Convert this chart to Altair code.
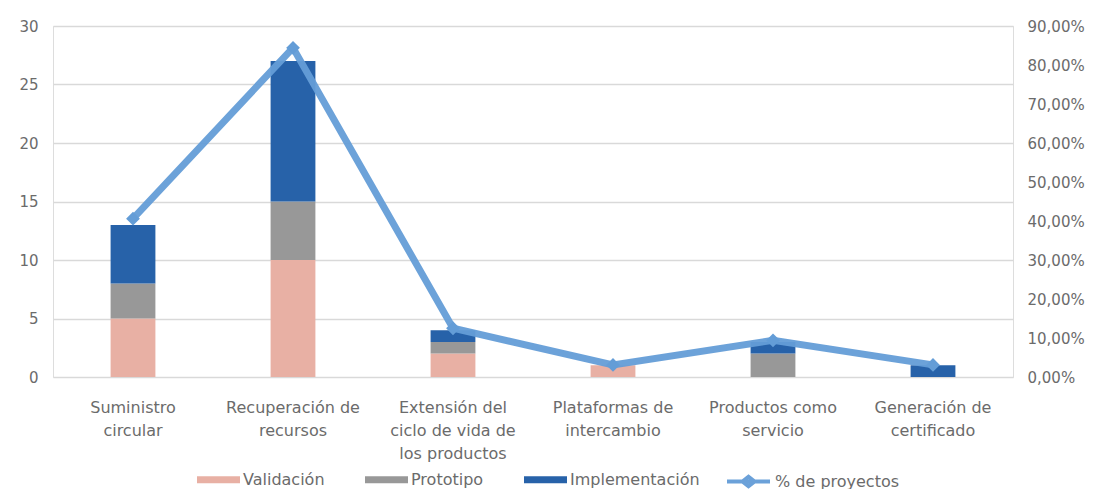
import altair as alt
import pandas as pd
import json

categories = [
    "Suministro circular",
    "Recuperación de recursos",
    "Extensión del ciclo de vida de los productos",
    "Plataformas de intercambio",
    "Productos como servicio",
    "Generación de certificado",
]
label_lines = [
    ["Suministro", "circular"],
    ["Recuperación de", "recursos"],
    ["Extensión del", "ciclo de vida de", "los productos"],
    ["Plataformas de", "intercambio"],
    ["Productos como", "servicio"],
    ["Generación de", "certificado"],
]
stages = ["Validación", "Prototipo", "Implementación"]
validacion = [5, 10, 2, 1, 0, 0]
prototipo = [3, 5, 1, 0, 2, 0]
implementacion = [5, 12, 1, 0, 1, 1]
pct_proyectos = [0.406, 0.844, 0.125, 0.031, 0.094, 0.031]
line_name = "% de proyectos"

stage_colors = ["#e8b0a4", "#989898", "#2762a9"]
line_color = "#649dd7"
font = "DejaVu Sans"
txt = "#6b6b6b"

rows = []
for i, c in enumerate(categories):
    for k, (s, vals) in enumerate(zip(stages, [validacion, prototipo, implementacion])):
        rows.append({"cat": c, "stage": s, "order": k, "n": vals[i]})
bars_df = pd.DataFrame(rows)
line_df = pd.DataFrame({"cat": categories, "pct": pct_proyectos, "serie": line_name})

label_map = json.dumps({c: l for c, l in zip(categories, label_lines)}, ensure_ascii=False)

x_enc = alt.X(
    "cat:N",
    sort=categories,
    scale=alt.Scale(paddingInner=0.72, paddingOuter=0.36),
    axis=alt.Axis(
        title=None, labelAngle=0, domain=False, ticks=False,
        labelExpr=f"{label_map}[datum.label]",
        labelFontSize=16, labelColor=txt, labelFont=font,
        labelPadding=22, labelLineHeight=23, labelLimit=300,
    ),
)

bars = alt.Chart(bars_df).mark_bar().encode(
    x=x_enc,
    y=alt.Y(
        "n:Q", stack="zero",
        scale=alt.Scale(domain=[0, 30], nice=False),
        axis=alt.Axis(
            title=None, values=[0, 5, 10, 15, 20, 25, 30], domain=False, ticks=False,
            labelFontSize=15, labelColor=txt, labelFont=font, labelPadding=15,
            gridColor="#d9d9d9", gridWidth=1.5,
        ),
    ),
    color=alt.Color(
        "stage:N",
        scale=alt.Scale(domain=stages, range=stage_colors),
        legend=alt.Legend(
            title=None, orient="none", direction="horizontal",
            legendX=144, legendY=432,
            symbolType="M-1,-0.16L1,-0.16L1,0.16L-1,0.16Z", symbolSize=1849,
            symbolStrokeWidth=0, labelFontSize=16, labelColor=txt, labelFont=font,
            labelOffset=3, columnPadding=40,
        ),
    ),
    order=alt.Order("order:Q"),
)

line = alt.Chart(line_df).mark_line(
    strokeWidth=7, opacity=0.95,
    point=alt.OverlayMarkDef(shape="diamond", size=120, filled=True, fill=line_color, opacity=1),
).encode(
    x=alt.X("cat:N", sort=categories),
    y=alt.Y(
        "pct:Q",
        scale=alt.Scale(domain=[0, 0.9], nice=False),
        axis=alt.Axis(
            title=None, orient="right", grid=False, domain=False, ticks=False,
            values=[0, 0.1, 0.2, 0.3, 0.4, 0.5, 0.6, 0.7, 0.8, 0.9],
            labelExpr="replace(format(datum.value * 100, '.2f'), '.', ',') + '%'",
            labelFontSize=15, labelColor=txt, labelFont=font, labelPadding=14,
        ),
    ),
    stroke=alt.Stroke(
        "serie:N",
        scale=alt.Scale(domain=[line_name], range=[line_color]),
        legend=alt.Legend(
            title=None, orient="none", direction="horizontal",
            legendX=672, legendY=432,
            symbolType="M-1,0L1,0M-0.28,0L0,-0.22L0.28,0L0,0.22Z", symbolSize=1849,
            symbolStrokeWidth=4, labelFontSize=16, labelColor=txt, labelFont=font,
            labelOffset=3,
        ),
    ),
)

chart = alt.layer(bars, line).resolve_scale(y="independent").properties(
    width=960, height=351,
    autosize=alt.AutoSizeParams(type="none"),
    padding={"left": 45, "top": 18, "right": 77, "bottom": 112},
).configure_view(stroke=None).configure(background="white")

chart.save("out.html", embed_options={"renderer": "svg", "actions": False})
